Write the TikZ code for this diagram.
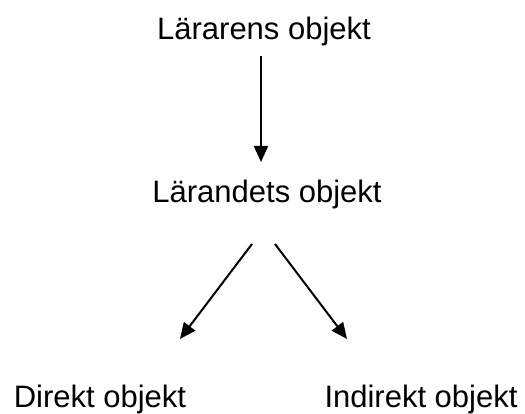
\documentclass[tikz,border=0pt]{standalone}
\usepackage{fontspec}
\setmainfont{Liberation Sans}
\usetikzlibrary{arrows.meta}
\tikzset{
  lbl/.style={inner sep=0pt, anchor=base, font=\fontsize{31}{37}\selectfont},
  arr/.style={line width=2pt, -{Triangle[length=16pt,width=14pt]}},
}
\begin{document}
\begin{tikzpicture}[x=1pt,y=-1pt]
\useasboundingbox (0,0) rectangle (525,414);
\node[lbl] (top)   at (264,40)  {Lärarens objekt};
\node[lbl] (mid)   at (267,203) {Lärandets objekt};
\node[lbl] (left)  at (100,407) {Direkt objekt};
\node[lbl] (right) at (421,407) {Indirekt objekt};
\draw[arr] ([xshift=-3pt,yshift=-16pt]top.base) -- ([xshift=-6pt,yshift=41pt]mid.base);
\draw[arr] ([xshift=-15pt,yshift=-41pt]mid.base) -- ([xshift=80pt,yshift=68pt]left.base);
\draw[arr] ([xshift=8pt,yshift=-41pt]mid.base) -- ([xshift=-74pt,yshift=68pt]right.base);
\end{tikzpicture}
\end{document}
